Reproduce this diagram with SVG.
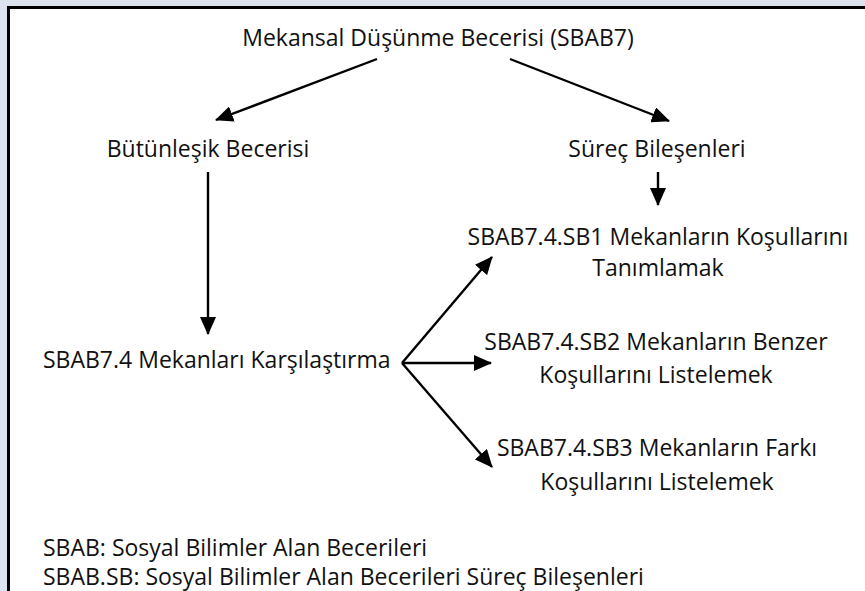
<svg xmlns="http://www.w3.org/2000/svg" width="865" height="591" viewBox="0 0 865 591">
<defs>
<style>
.t{font-family:"Open Sans","Noto Sans","Liberation Sans",sans-serif;font-size:23px;fill:#111;}
.m{text-anchor:middle;}
.c{stroke:#000;stroke-width:2.4;fill:none;}
</style>
<marker id="ah" markerWidth="18" markerHeight="16" refX="17" refY="8" orient="auto" markerUnits="userSpaceOnUse" viewBox="0 0 18 16">
<path d="M0,0 L18,8 L0,16 Z" fill="#000"/>
</marker>
</defs>
<rect x="0" y="0" width="865" height="591" fill="#dde2ef"/>
<rect x="8.5" y="7.5" width="870" height="600" fill="#fff" stroke="#000" stroke-width="3"/>
<g id="title"><text class="t m" x="438" y="46">Mekansal Düşünme Becerisi (SBAB7)</text></g>
<g id="butunlesik"><text class="t m" x="208" y="157">Bütünleşik Becerisi</text></g>
<g id="surec"><text class="t m" x="657" y="157">Süreç Bileşenleri</text></g>
<g id="sb1"><text class="t m" x="658" y="245">SBAB7.4.SB1 Mekanların Koşullarını</text><text class="t m" x="658" y="276">Tanımlamak</text></g>
<g id="sbab74"><text class="t" x="43" y="368">SBAB7.4 Mekanları Karşılaştırma</text></g>
<g id="sb2"><text class="t m" x="656" y="350">SBAB7.4.SB2 Mekanların Benzer</text><text class="t m" x="656" y="383">Koşullarını Listelemek</text></g>
<g id="sb3"><text class="t m" x="657" y="456">SBAB7.4.SB3 Mekanların Farkı</text><text class="t m" x="657" y="490">Koşullarını Listelemek</text></g>
<g id="legend"><text class="t" x="43" y="556">SBAB: Sosyal Bilimler Alan Becerileri</text><text class="t" x="43" y="585">SBAB.SB: Sosyal Bilimler Alan Becerileri Süreç Bileşenleri</text></g>
<g id="connectors">
<line class="c" x1="377" y1="59" x2="216" y2="120" marker-end="url(#ah)"/>
<line class="c" x1="510" y1="59" x2="669" y2="121" marker-end="url(#ah)"/>
<line class="c" x1="208" y1="172" x2="208" y2="334" marker-end="url(#ah)"/>
<line class="c" x1="658" y1="172" x2="658" y2="205" marker-end="url(#ah)"/>
<line class="c" x1="402" y1="363" x2="492" y2="257" marker-end="url(#ah)"/>
<line class="c" x1="402" y1="363" x2="491" y2="363" marker-end="url(#ah)"/>
<line class="c" x1="402" y1="363" x2="492" y2="467" marker-end="url(#ah)"/>
</g>
</svg>
